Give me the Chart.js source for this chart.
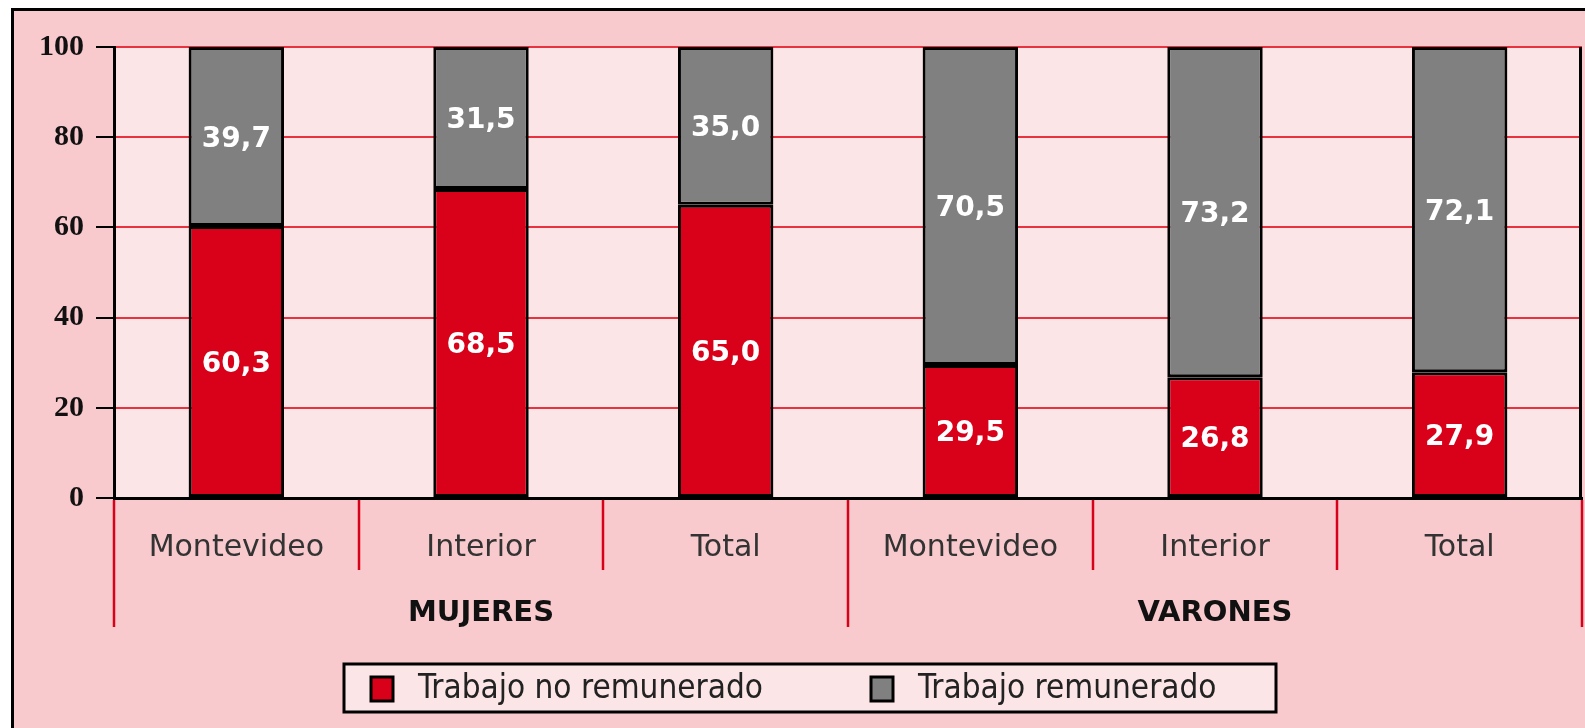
<!DOCTYPE html>
<html>
<head>
<meta charset="utf-8">
<script src="https://cdn.jsdelivr.net/npm/chart.js@4.4.1/dist/chart.umd.min.js"></script>
<style>
  html, body { margin: 0; padding: 0; background: #ffffff; }
  #wrap { width: 1585px; height: 728px; }
</style>
</head>
<body>
<div id="wrap"><canvas id="trabajo" width="1585" height="728"></canvas></div>
<script>
// data
const categories = ['Montevideo', 'Interior', 'Total', 'Montevideo', 'Interior', 'Total'];
const groups = ['MUJERES', 'VARONES'];
const noRemunerado = [60.3, 68.5, 65.0, 29.5, 26.8, 27.9];
const remunerado = [39.7, 31.5, 35.0, 70.5, 73.2, 72.1];
const yTicks = [0, 20, 40, 60, 80, 100];

const RED = '#d9001a';
const GREY = '#808080';
const OUTER_BG = '#f8cacd';
const PLOT_BG = '#fce5e7';
const GRID_RED = '#e8323f';

const fmt = v => v.toFixed(1).replace('.', ',');

// backgrounds and frame
const backgroundPlugin = {
    id: 'backgrounds',
    beforeDraw(chart) {
        const ctx = chart.ctx;
        const a = chart.chartArea;
        ctx.save();
        ctx.fillStyle = '#ffffff';
        ctx.fillRect(0, 0, chart.width, chart.height);
        ctx.fillStyle = OUTER_BG;
        ctx.fillRect(11, 8, chart.width - 11, chart.height - 8);
        ctx.strokeStyle = '#000';
        ctx.lineWidth = 3;
        ctx.beginPath();
        ctx.moveTo(12.5, chart.height + 5);
        ctx.lineTo(12.5, 9.5);
        ctx.lineTo(chart.width + 5, 9.5);
        ctx.stroke();
        ctx.fillStyle = PLOT_BG;
        ctx.fillRect(a.left, a.top, a.right - a.left, a.bottom - a.top);
        ctx.restore();
    }
};

// values inside the bars, separators, group labels, legend
const extrasPlugin = {
    id: 'extras',
    afterDatasetsDraw(chart) {
        const ctx = chart.ctx;
        ctx.save();
        ctx.fillStyle = '#ffffff';
        ctx.font = 'bold 28px "DejaVu Sans"';
        ctx.textAlign = 'center';
        ctx.textBaseline = 'middle';
        chart.data.datasets.forEach((ds, i) => {
            const meta = chart.getDatasetMeta(i);
            meta.data.forEach((bar, j) => {
                ctx.fillText(fmt(ds.data[j]), bar.x, (bar.y + bar.base) / 2 + 3);
            });
        });
        ctx.restore();
    },
    afterDraw(chart) {
        const ctx = chart.ctx;
        const a = chart.chartArea;
        const x = chart.scales.x;
        ctx.save();

        // right border of plot
        ctx.strokeStyle = '#000';
        ctx.lineWidth = 3;
        ctx.beginPath();
        ctx.moveTo(a.right - 1.5, a.top);
        ctx.lineTo(a.right - 1.5, a.bottom);
        ctx.stroke();

        // category separators below the axis
        const step = x.getPixelForValue(1) - x.getPixelForValue(0);
        ctx.strokeStyle = RED;
        ctx.lineWidth = 2.5;
        for (let k = 0; k <= categories.length; k++) {
            const px = Math.round(x.getPixelForValue(0) - step / 2 + k * step);
            const long = k % 3 === 0;
            ctx.beginPath();
            ctx.moveTo(px, a.bottom + 2);
            ctx.lineTo(px, long ? 627 : 570);
            ctx.stroke();
        }

        // group labels
        ctx.fillStyle = '#111';
        ctx.font = 'bold 29px "DejaVu Sans"';
        ctx.textAlign = 'center';
        ctx.textBaseline = 'middle';
        groups.forEach((g, gi) => {
            const cx = (x.getPixelForValue(gi * 3) + x.getPixelForValue(gi * 3 + 2)) / 2;
            ctx.fillText(g, cx, 613);
        });

        // legend
        const box = { left: 344, top: 664, right: 1276, bottom: 712 };
        ctx.fillStyle = PLOT_BG;
        ctx.fillRect(box.left, box.top, box.right - box.left, box.bottom - box.top);
        ctx.strokeStyle = '#000';
        ctx.lineWidth = 3;
        ctx.strokeRect(box.left, box.top, box.right - box.left, box.bottom - box.top);
        const items = [
            { x: 371, label: chart.data.datasets[0].label, color: RED },
            { x: 871, label: chart.data.datasets[1].label, color: GREY }
        ];
        ctx.textAlign = 'left';
        ctx.font = '33px "Liberation Sans Narrow", "DejaVu Sans Condensed", "Liberation Sans"';
        items.forEach(it => {
            ctx.fillStyle = it.color;
            ctx.fillRect(it.x, 677, 22, 24);
            ctx.lineWidth = 3;
            ctx.strokeRect(it.x, 677, 22, 24);
            ctx.fillStyle = '#222';
            ctx.fillText(it.label, it.x + 47, 689);
        });
        ctx.restore();
    }
};

const dataTrabajo = {
    labels: categories,
    datasets: [
        {
            label: 'Trabajo no remunerado',
            data: noRemunerado,
            backgroundColor: RED,
            borderColor: '#000',
            borderWidth: 3,
            borderSkipped: false
        },
        {
            label: 'Trabajo remunerado',
            data: remunerado,
            backgroundColor: GREY,
            borderColor: '#000',
            borderWidth: 3,
            borderSkipped: false
        }
    ]
};

const configTrabajo = {
    type: 'bar',
    data: dataTrabajo,
    options: {
        responsive: false,
        animation: false,
        barPercentage: 0.39,
        categoryPercentage: 1,
        layout: {
            padding: { top: 47, right: 3, bottom: 0, left: 0 }
        },
        plugins: {
            legend: { display: false },
            tooltip: { enabled: false }
        },
        scales: {
            x: {
                stacked: true,
                grid: { display: false },
                border: { color: '#000', width: 3 },
                ticks: {
                    color: '#333',
                    padding: 24,
                    font: { family: 'DejaVu Sans', size: 30 }
                },
                afterFit(scale) { scale.height = 230; }
            },
            y: {
                stacked: true,
                min: 0,
                max: 100,
                afterBuildTicks(scale) { scale.ticks = yTicks.map(v => ({ value: v })); },
                grid: {
                    color: GRID_RED,
                    lineWidth: 2,
                    tickColor: '#000',
                    tickLength: 18
                },
                border: { color: '#000', width: 3 },
                ticks: {
                    color: '#111',
                    padding: 12,
                    font: { family: 'Liberation Serif', size: 30, weight: 'bold' }
                },
                afterFit(scale) { scale.width = 114; }
            }
        }
    },
    plugins: [backgroundPlugin, extrasPlugin]
};

const trabajoChart = new Chart(document.getElementById('trabajo'), configTrabajo);
</script>
</body>
</html>
